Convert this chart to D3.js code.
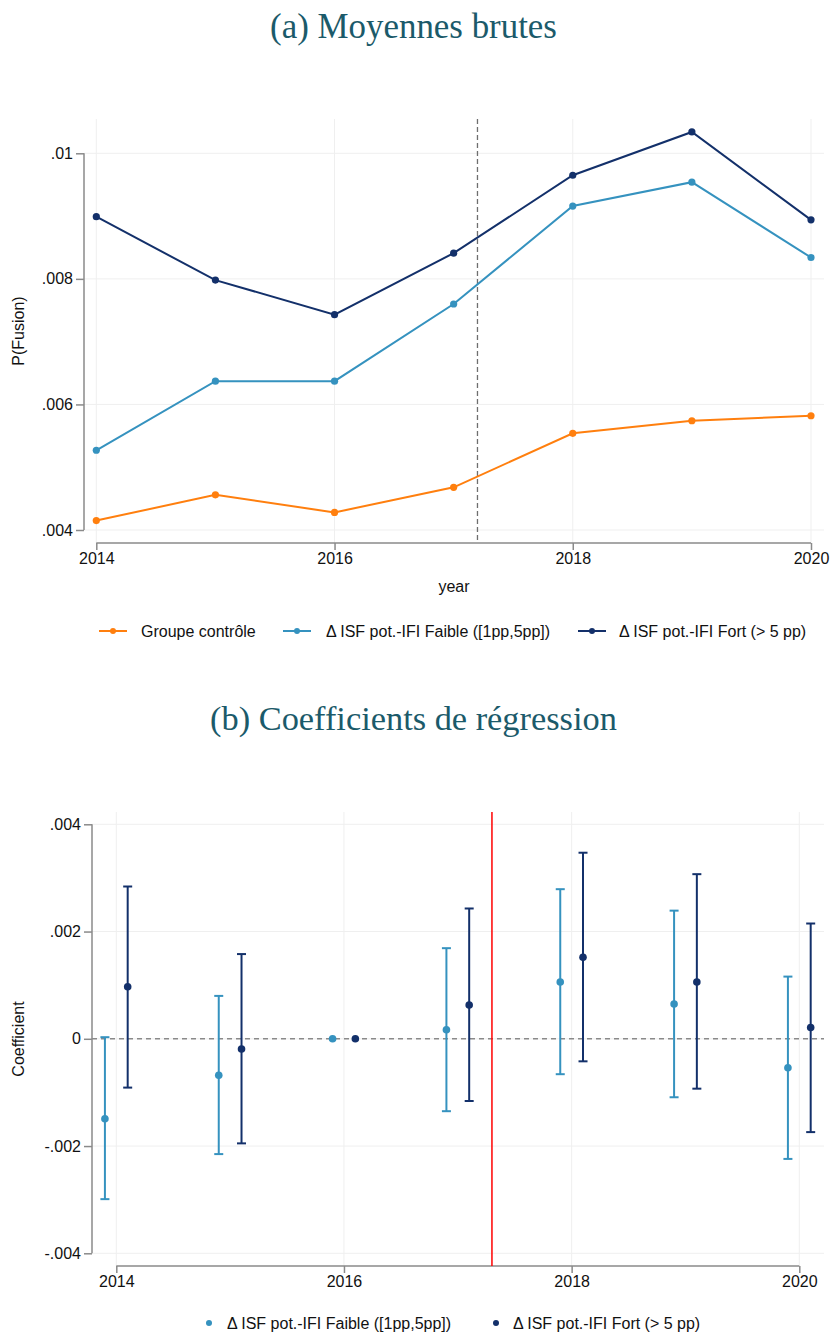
<!DOCTYPE html>
<html>
<head>
<meta charset="utf-8">
<script src="https://cdn.jsdelivr.net/npm/d3@7"></script>
<style>
  html, body { margin: 0; padding: 0; background: #fff; }
  svg { display: block; }
  text { font-family: "Liberation Sans", Arial, sans-serif; fill: #111; }
  .title { font-family: "Liberation Serif", "Times New Roman", serif; fill: #1b5a6a; }
</style>
</head>
<body>
<svg id="chart" width="830" height="1334"></svg>
<script>
// ---------- DATA ----------
const years = [2014, 2015, 2016, 2017, 2018, 2019, 2020];
const xTicks = [2014, 2016, 2018, 2020];

// Panel (a): raw means
const controle = [0.00415, 0.00456, 0.00428, 0.00468, 0.00554, 0.00574, 0.00582];
const faible   = [0.00527, 0.00637, 0.00637, 0.00760, 0.00916, 0.00954, 0.00834];
const fort     = [0.00899, 0.00798, 0.00743, 0.00841, 0.00965, 0.01034, 0.00894];
const yTicksA = [0.004, 0.006, 0.008, 0.01];
const yTickLabelsA = [".004", ".006", ".008", ".01"];

// Panel (b): regression coefficients with CIs
const coefFaible = [-0.00149, -0.00068, 0, 0.00017, 0.00106, 0.00065, -0.00054];
const loFaible   = [-0.00299, -0.00215, 0, -0.00135, -0.00066, -0.00109, -0.00224];
const hiFaible   = [0.00003, 0.00080, 0, 0.00169, 0.00279, 0.00239, 0.00116];
const coefFort   = [0.00097, -0.00019, 0, 0.00063, 0.00152, 0.00106, 0.00021];
const loFort     = [-0.00091, -0.00195, 0, -0.00116, -0.00042, -0.00093, -0.00174];
const hiFort     = [0.00284, 0.00158, 0, 0.00243, 0.00347, 0.00307, 0.00215];
const yTicksB = [-0.004, -0.002, 0, 0.002, 0.004];
const yTickLabelsB = ["-.004", "-.002", "0", ".002", ".004"];

const treatA = 2017.2;
const treatB = 2017.3;

const labels = {
  controle: "Groupe contrôle",
  faible: "\u0394 ISF pot.-IFI Faible ([1pp,5pp])",
  fort: "\u0394 ISF pot.-IFI Fort (> 5 pp)"
};
const colors = { controle: "#ff7f0e", faible: "#3592bf", fort: "#13306a" };

// ---------- DRAW ----------
const svg = d3.select("#chart");
const axisColor = "#8a8a8a";
const gridColor = "#efefef";

function fitTitle(sel, targetW) {
  const w = sel.node().getComputedTextLength();
  const fs = parseFloat(sel.attr("font-size"));
  sel.attr("font-size", fs * targetW / w);
}

function panel(cfg) {
  const g = svg.append("g");
  const x = d3.scaleLinear().domain([2014, 2020]).range(cfg.xr);
  const y = d3.scaleLinear().domain(cfg.yd).range(cfg.yr);

  // grid
  g.append("g").selectAll("line").data(cfg.yTicks).join("line")
    .attr("x1", cfg.plotL).attr("x2", cfg.plotR)
    .attr("y1", d => y(d)).attr("y2", d => y(d))
    .attr("stroke", gridColor).attr("stroke-width", 1);
  g.append("g").selectAll("line").data(xTicks).join("line")
    .attr("x1", d => x(d)).attr("x2", d => x(d))
    .attr("y1", cfg.plotT).attr("y2", cfg.axisY)
    .attr("stroke", gridColor).attr("stroke-width", 1);

  // y axis
  const yAxis = d3.axisLeft(y).tickValues(cfg.yTicks)
    .tickFormat((d, i) => cfg.yLabels[i]).tickSize(8).tickPadding(3);
  const ya = g.append("g").attr("transform", `translate(${cfg.plotL},0)`).call(yAxis);
  ya.select(".domain").attr("d", `M-8,${y(cfg.yd[0])}H0V${y(cfg.yd[1])}H-8`).attr("stroke", axisColor).attr("stroke-width", 1.5);
  ya.select(".domain").attr("d", `M0,${y(cfg.yd[0])}V${y(cfg.yd[1])}`);
  ya.selectAll(".tick line").attr("stroke", axisColor).attr("stroke-width", 1.5);
  ya.selectAll(".tick text").attr("font-size", 16).attr("font-family", "Liberation Sans, Arial, sans-serif").attr("fill", "#111");

  // x axis
  const xAxis = d3.axisBottom(x).tickValues(xTicks).tickFormat(d3.format("d")).tickSize(7).tickPadding(3);
  const xa = g.append("g").attr("transform", `translate(0,${cfg.axisY})`).call(xAxis);
  xa.select(".domain").attr("d", `M${x(2014)},0H${x(2020)}`).attr("stroke", axisColor).attr("stroke-width", 1.5);
  xa.selectAll(".tick line").attr("stroke", axisColor).attr("stroke-width", 1.5);
  xa.selectAll(".tick text").attr("font-size", 16).attr("font-family", "Liberation Sans, Arial, sans-serif").attr("fill", "#111");

  // y label
  g.append("text").attr("transform", `translate(${cfg.yLabelX},${(cfg.plotT + cfg.axisY) / 2}) rotate(-90)`)
    .attr("text-anchor", "middle").attr("font-size", 16).text(cfg.yLabel);

  return { g, x, y };
}

// ===== Panel (a) =====
const tA = svg.append("text").attr("class", "title").attr("x", 413.5).attr("y", 38)
  .attr("text-anchor", "middle").attr("font-size", 34).text("(a) Moyennes brutes");
fitTitle(tA, 287);

const A = panel({
  xr: [96.3, 811], yd: [0.004, 0.01], yr: [530, 153.3],
  plotL: 84, plotR: 824, plotT: 119, axisY: 543,
  yTicks: yTicksA, yLabels: yTickLabelsA, yLabel: "P(Fusion)", yLabelX: 24
});
A.g.append("line").attr("x1", A.x(treatA)).attr("x2", A.x(treatA))
  .attr("y1", 119).attr("y2", 543).attr("stroke", "#6e6e6e").attr("stroke-width", 1.3)
  .attr("stroke-dasharray", "5,3");
A.g.append("text").attr("x", 454).attr("y", 592).attr("text-anchor", "middle").attr("font-size", 16).text("year");

const seriesA = [
  { key: "controle", vals: controle },
  { key: "faible", vals: faible },
  { key: "fort", vals: fort }
];
const line = d3.line().x((d, i) => A.x(years[i])).y(d => A.y(d));
seriesA.forEach(s => {
  A.g.append("path").datum(s.vals).attr("d", line).attr("fill", "none")
    .attr("stroke", colors[s.key]).attr("stroke-width", 2);
  A.g.append("g").selectAll("circle").data(s.vals).join("circle")
    .attr("cx", (d, i) => A.x(years[i])).attr("cy", d => A.y(d)).attr("r", 3.6)
    .attr("fill", colors[s.key]);
});

// legend (a)
const legA = [
  { key: "controle", lx: 99, tx: 141 },
  { key: "faible", lx: 283, tx: 326 },
  { key: "fort", lx: 578, tx: 619 }
];
legA.forEach(l => {
  const gy = 631;
  svg.append("line").attr("x1", l.lx).attr("x2", l.lx + 28).attr("y1", gy).attr("y2", gy)
    .attr("stroke", colors[l.key]).attr("stroke-width", 2);
  svg.append("circle").attr("cx", l.lx + 14).attr("cy", gy).attr("r", 3).attr("fill", colors[l.key]);
  svg.append("text").attr("x", l.tx).attr("y", gy + 6).attr("font-size", 16).text(labels[l.key]);
});

// ===== Panel (b) =====
const tB = svg.append("text").attr("class", "title").attr("x", 413.5).attr("y", 730)
  .attr("text-anchor", "middle").attr("font-size", 34).text("(b) Coefficients de régression");
fitTitle(tB, 407);

const B = panel({
  xr: [116.3, 799.3], yd: [-0.004, 0.004], yr: [1253.3, 824.3],
  plotL: 92, plotR: 824, plotT: 812, axisY: 1266,
  yTicks: yTicksB, yLabels: yTickLabelsB, yLabel: "Coefficient", yLabelX: 24
});
// zero line
B.g.append("line").attr("x1", 92).attr("x2", 824).attr("y1", B.y(0)).attr("y2", B.y(0))
  .attr("stroke", "#8a8a8a").attr("stroke-width", 1.5).attr("stroke-dasharray", "5,4");
// treatment line
B.g.append("line").attr("x1", B.x(treatB)).attr("x2", B.x(treatB))
  .attr("y1", 812).attr("y2", 1266).attr("stroke", "#ff0000").attr("stroke-width", 1.5);

const seriesB = [
  { key: "faible", c: coefFaible, lo: loFaible, hi: hiFaible, off: -0.1 },
  { key: "fort", c: coefFort, lo: loFort, hi: hiFort, off: 0.1 }
];
seriesB.forEach(s => {
  const gg = B.g.append("g");
  years.forEach((yr, i) => {
    const cx = B.x(yr + s.off);
    if (s.hi[i] !== s.lo[i]) {
      gg.append("line").attr("x1", cx).attr("x2", cx).attr("y1", B.y(s.lo[i])).attr("y2", B.y(s.hi[i]))
        .attr("stroke", colors[s.key]).attr("stroke-width", 2);
      [s.lo[i], s.hi[i]].forEach(v => {
        gg.append("line").attr("x1", cx - 4.5).attr("x2", cx + 4.5).attr("y1", B.y(v)).attr("y2", B.y(v))
          .attr("stroke", colors[s.key]).attr("stroke-width", 2);
      });
    }
    gg.append("circle").attr("cx", cx).attr("cy", B.y(s.c[i])).attr("r", 3.8).attr("fill", colors[s.key]);
  });
});

// legend (b)
const legB = [
  { key: "faible", dx: 209, tx: 227 },
  { key: "fort", dx: 496, tx: 513 }
];
legB.forEach(l => {
  const gy = 1323;
  svg.append("circle").attr("cx", l.dx).attr("cy", gy).attr("r", 3).attr("fill", colors[l.key]);
  svg.append("text").attr("x", l.tx).attr("y", gy + 6).attr("font-size", 16).text(labels[l.key]);
});
</script>
</body>
</html>
